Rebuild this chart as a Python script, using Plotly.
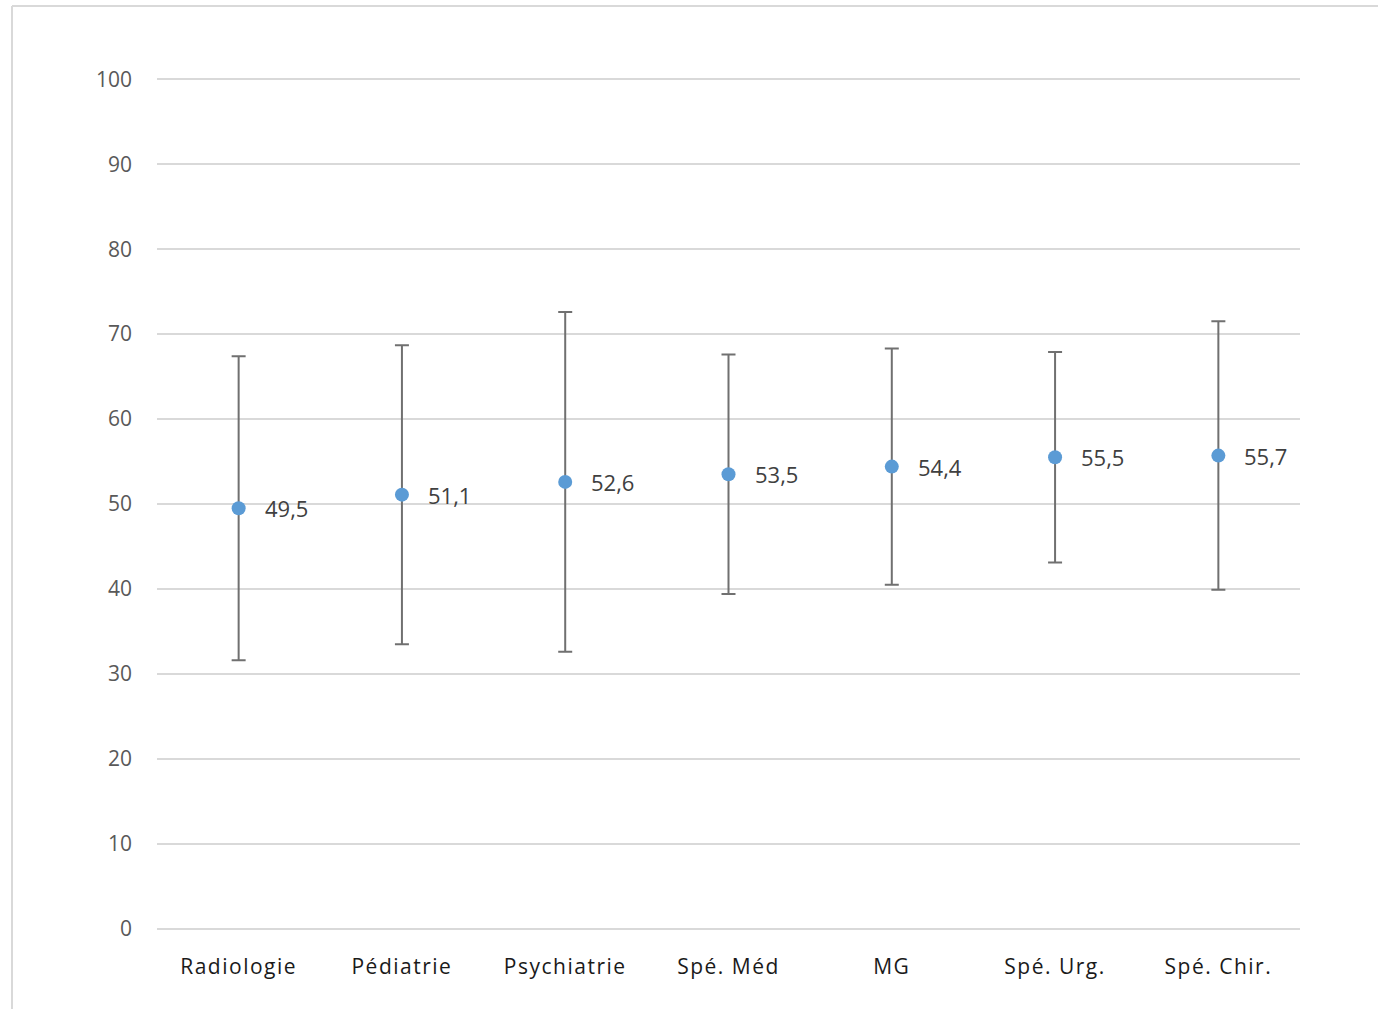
import plotly.graph_objects as go

categories = ["Radiologie", "Pédiatrie", "Psychiatrie", "Spé. Méd", "MG", "Spé. Urg.", "Spé. Chir."]
means = [49.5, 51.1, 52.6, 53.5, 54.4, 55.5, 55.7]
sd = [17.9, 17.6, 20.0, 14.1, 13.9, 12.4, 15.8]
labels = ["49,5", "51,1", "52,6", "53,5", "54,4", "55,5", "55,7"]
yticks = [0, 10, 20, 30, 40, 50, 60, 70, 80, 90, 100]

W, H = 1378, 1009
L, R, T, B = 157, 78, 78, 79
pw, ph = W - L - R, H - T - B

FONT = "Open Sans, Liberation Sans"

fig = go.Figure()
fig.add_trace(go.Scatter(
    x=categories, y=means, mode="markers",
    marker=dict(color="#5B9BD5", size=14),
    error_y=dict(type="data", array=sd, visible=True, color="#707070", thickness=2, width=7),
    hoverinfo="skip", showlegend=False,
))

for c, m, t in zip(categories, means, labels):
    fig.add_annotation(x=c, y=m, text=t, showarrow=False, xanchor="left", yanchor="middle",
                       xshift=24, font=dict(family=FONT, size=22, color="#404040"))

# outer chart border (left & top visible)
bx = (12 - L) / pw
by = (H - B - 6) / ph
fig.add_shape(type="line", xref="paper", yref="paper", x0=bx, x1=1.2, y0=by, y1=by,
              line=dict(color="#d9d9d9", width=2))
fig.add_shape(type="line", xref="paper", yref="paper", x0=bx, x1=bx, y0=by, y1=-0.3,
              line=dict(color="#d9d9d9", width=2))

ticktext = ['<span style="letter-spacing:1.5px">%s</span>' % c for c in categories]

fig.update_layout(
    width=W, height=H,
    margin=dict(l=L, r=R, t=T, b=B),
    paper_bgcolor="white", plot_bgcolor="white",
    xaxis=dict(type="category", range=[-0.5, 6.5], showgrid=False, showline=False, zeroline=False,
               tickvals=categories, ticktext=ticktext,
               ticks="", ticklabelstandoff=22,
               tickfont=dict(family=FONT, size=21, color="#1a1a1a")),
    yaxis=dict(range=[-0.15, 100.15], tickvals=yticks, showgrid=True, gridcolor="#d9d9d9", gridwidth=1.5,
               zeroline=False, showline=False, ticks="", ticklabelstandoff=24,
               tickfont=dict(family=FONT, size=21, color="#595959")),
)

fig.write_html("out.html", config={"displayModeBar": False},
               post_script="document.body.style.margin='0';document.body.style.overflow='hidden';")
